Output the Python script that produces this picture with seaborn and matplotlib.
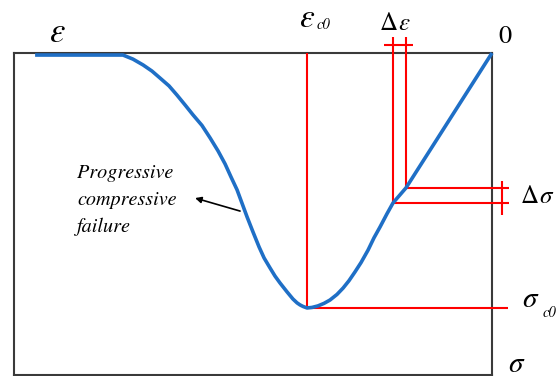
import numpy as np
import pandas as pd
import matplotlib
matplotlib.use("Agg")
import matplotlib.pyplot as plt
import seaborn as sns

# Normalised compressive stress-strain curve (strain / eps_c0, stress / sigma_c0)
strain = [-2.470, -1.995, -1.941, -1.886, -1.838, -1.795, -1.746, -1.703,
          -1.659, -1.616, -1.568, -1.524, -1.481, -1.443, -1.411, -1.378,
          -1.351, -1.324, -1.292, -1.259, -1.232, -1.200, -1.173, -1.146,
          -1.108, -1.076, -1.054, -1.038, -1.022, -1.000,
          -0.973, -0.941, -0.908, -0.876, -0.838, -0.805, -0.773, -0.741,
          -0.708, -0.670, -0.638, -0.605, -0.568, -0.535, -0.465, 0.0]
stress = [-0.008, -0.008, -0.024, -0.047, -0.071, -0.098, -0.129, -0.165,
          -0.204, -0.243, -0.284, -0.333, -0.384, -0.435, -0.486, -0.537,
          -0.590, -0.643, -0.702, -0.761, -0.804, -0.843, -0.875, -0.902,
          -0.937, -0.965, -0.980, -0.988, -0.994, -1.000,
          -0.998, -0.992, -0.982, -0.969, -0.947, -0.922, -0.893, -0.859,
          -0.822, -0.773, -0.725, -0.682, -0.631, -0.588, -0.529, 0.0]

# Peak point and the small increment on the ascending branch
eps_c0 = -1.0
sig_c0 = -1.0
d_eps = [-0.535, -0.465]
d_sig = [-0.588, -0.529]

sns.set_theme(style="white")
plt.rcParams["font.family"] = ["STIXGeneral", "DejaVu Sans"]

W, H = 558, 376
fig = plt.figure(figsize=(W / 100, H / 100), dpi=100)
ax = fig.add_axes([14 / W, 1 / H, 478 / W, 322 / H])
ax.set_xlim(-2.584, 0.0)
ax.set_ylim(-1.263, 0.0)
ax.set_xticks([])
ax.set_yticks([])
for s in ax.spines.values():
    s.set_visible(True)
    s.set_color("#3a3a3a")
    s.set_linewidth(1.5)

red = "#ff0000"
rl = dict(color=red, lw=1.5, clip_on=False, solid_capstyle="butt", zorder=3)

# Peak markers
ax.plot([eps_c0, eps_c0], [0.0, sig_c0], **rl)
ax.plot([eps_c0, 0.086], [sig_c0, sig_c0], **rl)

# Strain increment
for e, s in zip(d_eps, d_sig):
    ax.plot([e, e], [0.063, s], **rl)
ax.plot([-0.584, -0.427], [0.033, 0.033], **rl)

# Stress increment
for e, s in zip(d_eps, d_sig):
    ax.plot([e, 0.092], [s, s], **rl)
ax.plot([0.054, 0.054], [-0.502, -0.635], **rl)

df = pd.DataFrame({"strain": strain, "stress": stress})
sns.lineplot(data=df, x="strain", y="stress", sort=False, estimator=None,
             color="#1f6fc6", lw=2.6, ax=ax, zorder=4)
curve = ax.lines[-1]
curve.set_clip_on(False)
curve.set_solid_capstyle("butt")
curve.set_solid_joinstyle("round")
ax.set_xlabel("")
ax.set_ylabel("")

tk = dict(clip_on=False, color="black", va="baseline")

ax.text(-2.349, 0.043, "ε", fontsize=25, style="italic", ha="center", **tk)
ax.text(-1.0, 0.102, "ε", fontsize=24, style="italic", ha="center", **tk)
ax.text(-0.946, 0.094, "c0", fontsize=10.5, style="italic", ha="left", **tk)
ax.text(-0.508, 0.090, "Δ", fontsize=18, ha="right", **tk)
ax.text(-0.508, 0.090, "ε", fontsize=18, style="italic", ha="left", **tk)
ax.text(0.070, 0.039, "0", fontsize=19, ha="center", **tk)
ax.text(0.254, -0.588, "Δ", fontsize=18, ha="right", **tk)
ax.text(0.254, -0.588, "σ", fontsize=18, style="italic", ha="left", **tk)
ax.text(0.161, -0.995, "σ", fontsize=21, style="italic", ha="left", **tk)
ax.text(0.276, -1.034, "c0", fontsize=10.5, style="italic", ha="left", **tk)
ax.text(0.086, -1.251, "σ", fontsize=21, style="italic", ha="left", **tk)

for yy, line in zip([-0.490, -0.596, -0.702],
                    ["Progressive", "compressive", "failure"]):
    ax.text(-2.243, yy, line, fontsize=14.5, style="italic", ha="left", **tk)

ax.annotate("", xy=(-1.605, -0.569), xytext=(-1.362, -0.620),
            arrowprops=dict(arrowstyle="-|>", color="black", lw=1.2,
                            mutation_scale=9, shrinkA=0, shrinkB=0))

fig.savefig("out.png", dpi=100)
